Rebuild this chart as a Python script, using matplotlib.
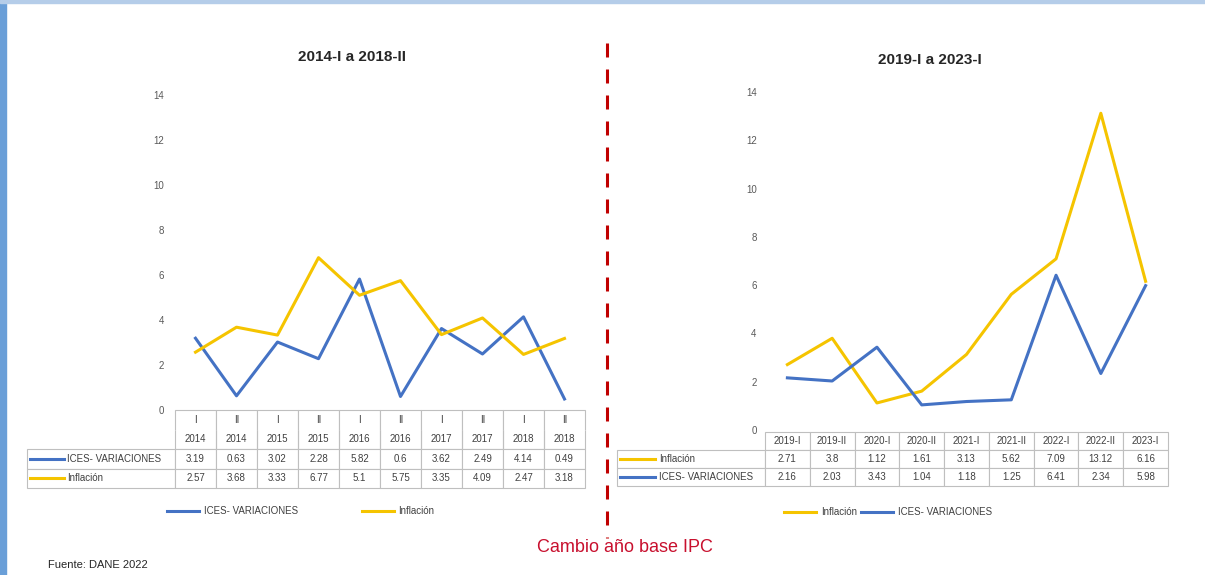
import matplotlib
matplotlib.use('Agg')
import matplotlib.pyplot as plt
from matplotlib.patches import Rectangle
from matplotlib.lines import Line2D

plt.rcParams['font.family'] = ['Liberation Sans', 'DejaVu Sans']

# ---------------- data ----------------
left_periods = ['I', 'II', 'I', 'II', 'I', 'II', 'I', 'II', 'I', 'II']
left_years = ['2014', '2014', '2015', '2015', '2016', '2016', '2017', '2017', '2018', '2018']
left_ices = [3.19, 0.63, 3.02, 2.28, 5.82, 0.6, 3.62, 2.49, 4.14, 0.49]
left_infl = [2.57, 3.68, 3.33, 6.77, 5.1, 5.75, 3.35, 4.09, 2.47, 3.18]

right_labels = ['2019-I', '2019-II', '2020-I', '2020-II', '2021-I', '2021-II',
                '2022-I', '2022-II', '2023-I']
right_infl = [2.71, 3.8, 1.12, 1.61, 3.13, 5.62, 7.09, 13.12, 6.16]
right_ices = [2.16, 2.03, 3.43, 1.04, 1.18, 1.25, 6.41, 2.34, 5.98]

yticks = [0, 2, 4, 6, 8, 10, 12, 14]

name_ices = 'ICES- VARIACIONES'
name_infl = 'Inflación'
title_left = '2014-I a 2018-II'
title_right = '2019-I a 2023-I'
note_change = 'Cambio año base IPC'
source = 'Fuente: DANE 2022'

# ---------------- style ----------------
BLUE = '#4472C4'
YELLOW = '#F5C400'
GRID = '#BFBFBF'
TXT = '#404040'
W, H = 1205, 575


def fx(x):
    return x / W


def fy(y):
    return 1 - y / H


fig = plt.figure(figsize=(W / 100, H / 100), dpi=100)
fig.patch.set_facecolor('white')

# slide frame strips
fig.patches.append(Rectangle((0, 0), 6 / W, 1, transform=fig.transFigure,
                             color='#6A9FD8', zorder=0))
fig.patches.append(Rectangle((0, 1 - 3 / H), 1, 3 / H, transform=fig.transFigure,
                             color='#B5CDE9', zorder=0))


def style_axes(ax, n, pad):
    ax.set_xlim(-0.5, n - 0.5)
    ax.set_ylim(0, 14)
    ax.set_yticks(yticks)
    ax.set_xticks([])
    ax.tick_params(axis='y', length=0, labelsize=7, labelcolor='#595959', pad=pad)
    for s in ax.spines.values():
        s.set_visible(False)
    ax.patch.set_alpha(0)


def make_table(ax, rows, colwidths, bbox, edges):
    tb = ax.table(cellText=rows, colWidths=colwidths, cellLoc='center',
                  bbox=bbox)
    tb.auto_set_font_size(False)
    tb.set_fontsize(7)
    for (r, c), cell in tb.get_celld().items():
        cell.set_edgecolor(GRID)
        cell.set_linewidth(0.8)
        cell.get_text().set_color(TXT)
        cell.visible_edges = edges(r, c)
    return tb


# ---------------- left chart ----------------
ax1 = fig.add_axes([fx(175), fy(410), 410 / W, 315 / H])
style_axes(ax1, len(left_ices), 8)
x1 = range(len(left_ices))
l1a, = ax1.plot(x1, left_ices, color=BLUE, lw=2.2, clip_on=False)
l1b, = ax1.plot(x1, left_infl, color=YELLOW, lw=2.2, clip_on=False)

rows1 = [[''] + left_periods,
         [''] + left_years,
         [''] + [str(v) for v in left_ices],
         [''] + [str(v) for v in left_infl]]
cw1 = [148] + [41] * len(left_ices)


def edges1(r, c):
    if c == 0 and r < 2:
        return ''
    if r == 0:
        return 'LRT'
    if r == 1:
        return 'LRB'
    return 'closed'


make_table(ax1, rows1, cw1, [(27 - 175) / 410, -78 / 315, (585 - 27) / 410, 78 / 315], edges1)

# row labels with keys (left)
for yy, col, name in [(459, BLUE, name_ices), (478, YELLOW, name_infl)]:
    fig.add_artist(Line2D([fx(30), fx(64)], [fy(yy), fy(yy)], color=col, lw=2.2))
    fig.text(fx(67), fy(yy), name, fontsize=7, color=TXT, va='center', ha='left')

fig.legend([l1a, l1b], [name_ices, name_infl], loc='center',
           bbox_to_anchor=(fx(301), fy(511)), ncol=2, frameon=False,
           fontsize=7, handlelength=3.3, columnspacing=6.5, handletextpad=0.5,
           labelcolor=TXT)

fig.text(fx(352), fy(57), title_left, ha='center', va='center', fontsize=11,
         fontweight='bold', color='#262626')

# ---------------- right chart ----------------
ax2 = fig.add_axes([fx(765), fy(430), 403 / W, 338 / H])
style_axes(ax2, len(right_ices), 6)
x2 = range(len(right_ices))
l2a, = ax2.plot(x2, right_infl, color=YELLOW, lw=2.2, clip_on=False)
l2b, = ax2.plot(x2, right_ices, color=BLUE, lw=2.2, clip_on=False)

rows2 = [[''] + right_labels,
         [''] + [str(v) for v in right_infl],
         [''] + [str(v) for v in right_ices]]
cw2 = [148] + [44.8] * len(right_ices)


def edges2(r, c):
    if c == 0 and r == 0:
        return ''
    return 'closed'


make_table(ax2, rows2, cw2, [(617 - 765) / 403, -(486 - 430) / 338,
                             (1168 - 617) / 403, (486 - 432) / 338], edges2)

for yy, col, name in [(459, YELLOW, name_infl), (477, BLUE, name_ices)]:
    fig.add_artist(Line2D([fx(620), fx(655)], [fy(yy), fy(yy)], color=col, lw=2.2))
    fig.text(fx(659), fy(yy), name, fontsize=7, color=TXT, va='center', ha='left')

fig.legend([l2a, l2b], [name_infl, name_ices], loc='center',
           bbox_to_anchor=(fx(888), fy(512)), ncol=2, frameon=False,
           fontsize=7, handlelength=3.3, columnspacing=0.4, handletextpad=0.5,
           labelcolor=TXT)

fig.text(fx(930), fy(60), title_right, ha='center', va='center', fontsize=11,
         fontweight='bold', color='#262626')

# ---------------- divider & notes ----------------
fig.add_artist(Line2D([fx(607), fx(607)], [fy(43), fy(538)], color='#C00000',
                      lw=2.2, linestyle=(0, (14 * 0.72 / 2.2, 12 * 0.72 / 2.2))))
fig.text(fx(625), fy(548), note_change, ha='center', va='center', fontsize=13,
         color='#C8102E')
fig.text(fx(48), fy(565), source, ha='left', va='center', fontsize=8,
         color='#262626')

fig.savefig('out.png', dpi=100)
